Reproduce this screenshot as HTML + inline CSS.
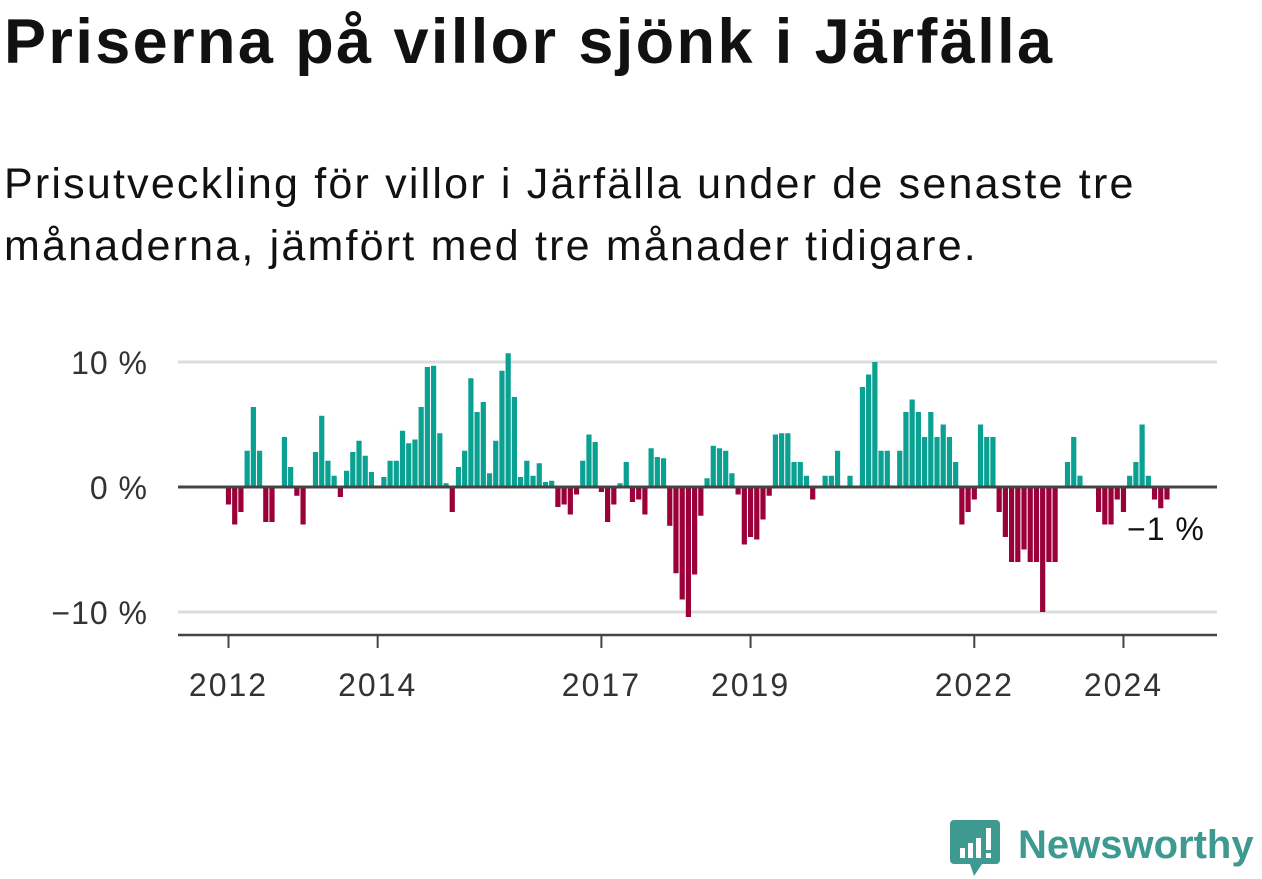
<!DOCTYPE html>
<html><head><meta charset="utf-8">
<style>
body{margin:0;background:#fff;width:1262px;height:879px;overflow:hidden;font-family:"Liberation Sans",sans-serif;}
#title{position:absolute;left:4px;top:6px;font-size:63px;font-weight:bold;color:#111;margin:0;letter-spacing:2.4px;white-space:nowrap;}
#sub{position:absolute;left:4px;top:153px;font-size:43px;line-height:62px;color:#111;margin:0;letter-spacing:2.2px;white-space:nowrap;}
#logo{position:absolute;left:950px;top:818px;}
</style></head><body>
<h1 id="title">Priserna på villor sjönk i Järfälla</h1>
<p id="sub">Prisutveckling för villor i Järfälla under de senaste tre<br>månaderna, jämfört med tre månader tidigare.</p>
<svg id="chart" width="1262" height="879" style="position:absolute;left:0;top:0" xmlns="http://www.w3.org/2000/svg"></svg>
<svg id="logo" width="312" height="60" xmlns="http://www.w3.org/2000/svg">
<path d="M4 2 h42 a4 4 0 0 1 4 4 v36 a4 4 0 0 1 -4 4 h-14 l-8 12 l-4 -12 h-16 a4 4 0 0 1 -4 -4 v-36 a4 4 0 0 1 4 -4z" fill="#3e9a91"/>
<rect x="10" y="30" width="5" height="10" fill="#fff"/><rect x="18" y="25" width="5" height="15" fill="#fff"/><rect x="26" y="20" width="5" height="20" fill="#fff"/><rect x="36" y="10" width="5" height="22" fill="#fff"/><rect x="36" y="35" width="5" height="5" fill="#fff"/>
<text x="68" y="40" font-family="Liberation Sans, sans-serif" font-weight="bold" font-size="40" fill="#3e9a91">Newsworthy</text>
</svg>
<script>
const categoriesStart = [2012, 1];
const values = [-1.4,-3.0,-2.0,2.9,6.4,2.9,-2.8,-2.8,0,4.0,1.6,-0.7,-3.0,0,2.8,5.7,2.1,0.9,-0.8,1.3,2.8,3.7,2.5,1.2,0,0.8,2.1,2.1,4.5,3.5,3.8,6.4,9.6,9.7,4.3,0.3,-2.0,1.6,2.9,8.7,6.0,6.8,1.1,3.7,9.3,10.7,7.2,0.8,2.1,0.9,1.9,0.4,0.5,-1.6,-1.4,-2.2,-0.6,2.1,4.2,3.6,-0.4,-2.8,-1.4,0.3,2.0,-1.2,-1.0,-2.2,3.1,2.4,2.3,-3.1,-6.9,-9.0,-10.4,-7.0,-2.3,0.7,3.3,3.1,2.9,1.1,-0.6,-4.6,-4.0,-4.2,-2.6,-0.7,4.2,4.3,4.3,2.0,2.0,0.9,-1.0,0,0.9,0.9,2.9,0,0.9,0,8.0,9.0,10.0,2.9,2.9,0,2.9,6.0,7.0,6.0,4.0,6.0,4.0,5.0,4.0,2.0,-3.0,-2.0,-1.0,5.0,4.0,4.0,-2.0,-4.0,-6.0,-6.0,-5.0,-6.0,-6.0,-10.0,-6.0,-6.0,0,2.0,4.0,0.9,0,0,-2.0,-3.0,-3.0,-1.0,-2.0,0.9,2.0,5.0,0.9,-1.0,-1.7,-1.0];
const yTicks = [10, 0, -10];
const yTickLabels = ["10 %", "0 %", "\u221210 %"];
const xTickYears = [2012, 2014, 2017, 2019, 2022, 2024];
const lastLabel = "\u22121 %";

const NS = "http://www.w3.org/2000/svg";
const svg = document.getElementById('chart');
const X0 = 228.5, STEP = 6.215, Y0 = 487, PPU = 12.5;
function x(i){ return X0 + i*STEP; }
function y(v){ return Y0 - v*PPU; }
function monthIndex(yr){ return (yr - categoriesStart[0])*12 + (1 - categoriesStart[1]); }
function mk(tag, attrs){ const e = document.createElementNS(NS, tag); for (const k in attrs) e.setAttribute(k, attrs[k]); svg.appendChild(e); return e; }

yTicks.forEach((t, k) => {
  if (t !== 0) {
    const g = mk('line', {x1:178, x2:1217, y1:y(t), y2:y(t), stroke:'#dcdcdc', 'stroke-width':3});
    
    
  }
  const tx = mk('text', {x:148, y:y(t)+12, 'text-anchor':'end', 'font-size':32, 'letter-spacing':1, fill:'#333', 'font-family':'Liberation Sans, sans-serif'});
  tx.textContent = yTickLabels[k];
  
  
});

values.forEach((v, i) => {
  if (v === 0) return;
  const top = v > 0 ? y(v) : Y0;
  const r = mk('rect', {x:x(i)-2.6, y:top, width:5.2, height:Math.abs(v)*PPU, fill: v > 0 ? '#0aa193' : '#9b0039'});
  
  
});

const zl = mk('line', {x1:178, x2:1217, y1:Y0, y2:Y0, stroke:'#444', 'stroke-width':3});


const ax = mk('line', {x1:178, x2:1217, y1:635, y2:635, stroke:'#444', 'stroke-width':2.5});



xTickYears.forEach(yr => {
  const xi = x(monthIndex(yr));
  const t = mk('line', {x1:xi, x2:xi, y1:635, y2:648, stroke:'#444', 'stroke-width':2});
  
  
  const l = mk('text', {x:xi, y:696, 'text-anchor':'middle', 'font-size':32, 'letter-spacing':2, fill:'#333', 'font-family':'Liberation Sans, sans-serif'});
  l.textContent = yr;
  
  
});

const ll = mk('text', {x:1127, y:540, 'font-size':32, 'letter-spacing':1, fill:'#111', 'font-family':'Liberation Sans, sans-serif'});
ll.textContent = lastLabel;


</script>
</body></html>
